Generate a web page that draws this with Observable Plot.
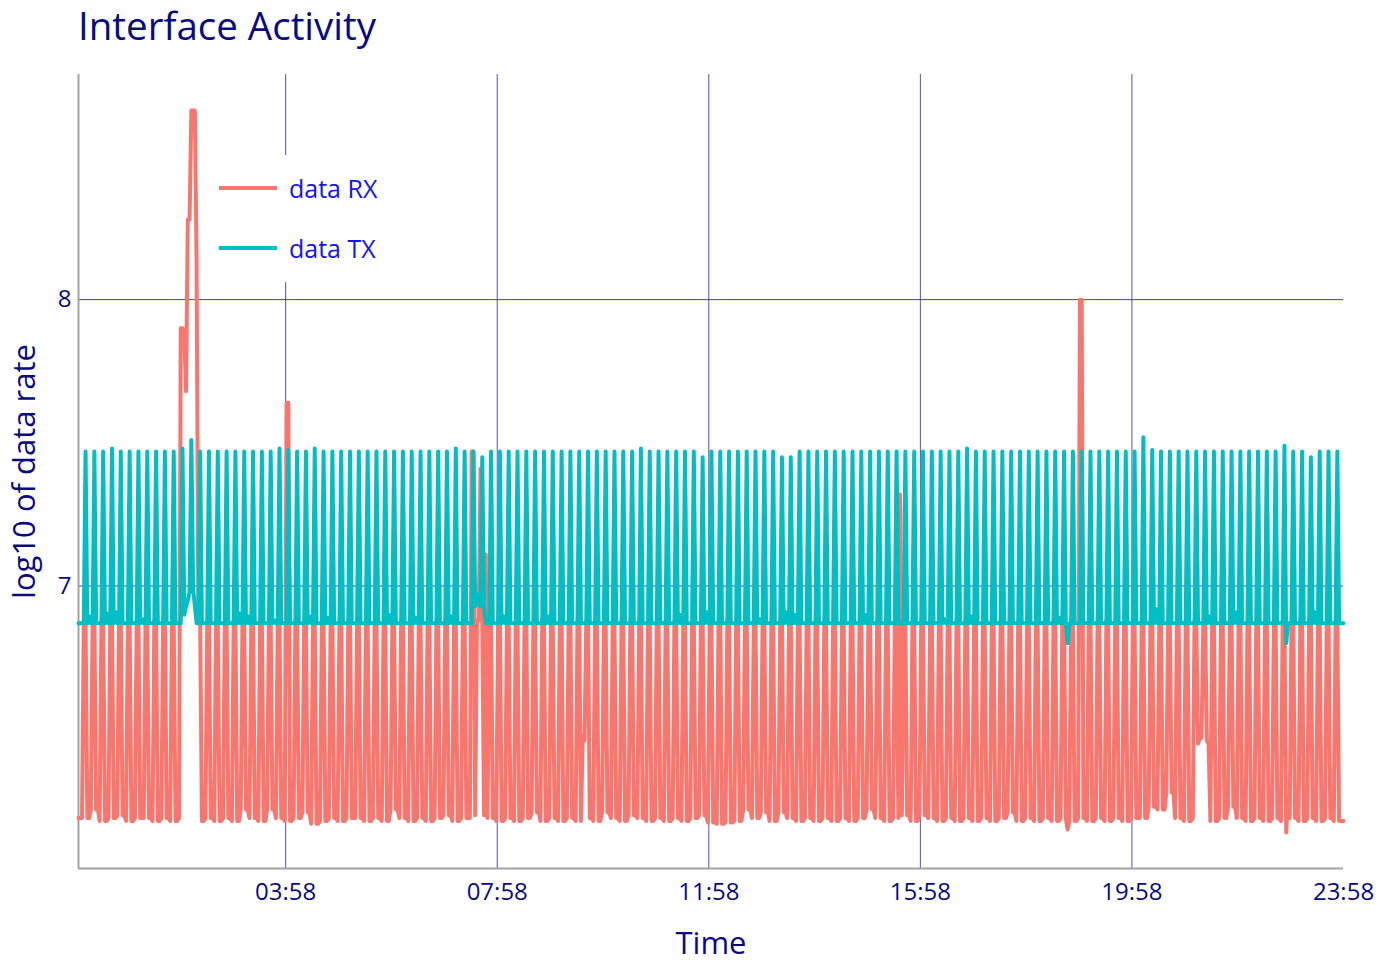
<!DOCTYPE html>
<html>
<head>
<meta charset="utf-8">
<script src="https://cdn.jsdelivr.net/npm/d3@7"></script>
<script src="https://cdn.jsdelivr.net/npm/@observablehq/plot@0.6"></script>
<style>
  html, body { margin: 0; padding: 0; background: white; }
  #wrap { position: relative; width: 1390px; height: 960px; font-family: "Open Sans", sans-serif; }
  #title { height: 60px; line-height: 50px; font-size: 38.5px; color: #0a0a85; padding-left: 78px; white-space: nowrap; }
  #legend { position: absolute; left: 205px; top: 155px; width: 190px; height: 127px; background: white; }
  .lg-row { position: absolute; left: 0; width: 190px; height: 40px; }
  .lg-line { position: absolute; left: 14px; top: 18px; width: 58px; height: 4px; }
  .lg-text { position: absolute; left: 84px; top: 0; line-height: 40px; font-size: 25px; color: #1414f5; white-space: nowrap; }
</style>
</head>
<body>
<div id="wrap">
  <div id="title"></div>
  <div id="chart"></div>
  <div id="legend"></div>
</div>
<script>
// ---------------- data ----------------
const titleText = "Interface Activity";
const xLabel = "Time";
const yLabel = "log10 of data rate";
const seriesNames = ["data RX", "data TX"];
const seriesColors = ["#F8766D", "#00BFC4"];

const dayStart = "00:03";       // first sample
const dayEnd = "23:58";         // last sample
const firstBurst = "00:11";     // first periodic transfer burst
const burstEveryMin = 10;       // bursts every 10 minutes, samples every 2 minutes
const sampleStepMin = 2;

const xTickLabels = ["03:58", "07:58", "11:58", "15:58", "19:58", "23:58"];
const xGridLabels = ["03:58", "07:58", "11:58", "15:58", "19:58"];
const yTicks = [7, 8];

const txLow = 6.87;

// TX peak value of every burst (143 bursts)
const txPeak = [
  7.47,7.47,7.47,7.48,7.47,7.47,7.47,7.47,7.47,7.47,
  7.47,7.48,7.51,7.47,7.47,7.47,7.47,7.47,7.47,7.47,
  7.47,7.47,7.48,7.475,7.47,7.47,7.48,7.47,7.47,7.47,
  7.47,7.47,7.47,7.47,7.47,7.47,7.47,7.47,7.47,7.47,
  7.47,7.47,7.48,7.47,7.47,7.45,7.47,7.47,7.47,7.47,
  7.47,7.47,7.47,7.47,7.47,7.47,7.47,7.47,7.47,7.47,
  7.47,7.47,7.47,7.48,7.47,7.47,7.47,7.47,7.47,7.47,
  7.45,7.47,7.47,7.47,7.47,7.47,7.47,7.47,7.47,7.45,
  7.45,7.47,7.47,7.47,7.47,7.47,7.47,7.47,7.47,7.47,
  7.47,7.47,7.47,7.47,7.47,7.47,7.47,7.47,7.47,7.47,
  7.48,7.47,7.47,7.47,7.47,7.47,7.47,7.47,7.47,7.47,
  7.47,7.47,7.47,7.47,7.47,7.47,7.47,7.47,7.47,7.47,
  7.52,7.475,7.47,7.47,7.47,7.47,7.47,7.47,7.47,7.47,
  7.47,7.47,7.47,7.47,7.47,7.47,7.49,7.47,7.47,7.45,
  7.47,7.47,7.47
];
// TX value of the last sample of each burst cycle (small bumps / dips)
const txTail = [
  6.895,6.87,6.905,6.91,6.87,6.87,6.885,6.87,6.87,6.87,
  6.87,6.87,6.87,6.87,6.87,6.87,6.87,6.905,6.895,6.87,
  6.87,6.88,6.87,6.87,6.87,6.895,6.87,6.89,6.87,6.87,
  6.87,6.87,6.87,6.87,6.90,6.87,6.87,6.89,6.87,6.87,
  6.87,6.895,6.87,6.87,6.87,6.87,6.87,6.895,6.87,6.87,
  6.87,6.87,6.895,6.87,6.87,6.87,6.87,6.87,6.87,6.87,
  6.87,6.87,6.87,6.87,6.87,6.87,6.87,6.90,6.87,6.87,
  6.91,6.87,6.87,6.87,6.87,6.87,6.885,6.87,6.87,6.91,
  6.90,6.87,6.87,6.87,6.87,6.87,6.87,6.87,6.90,6.87,
  6.87,6.87,6.87,6.87,6.87,6.87,6.87,6.885,6.87,6.87,
  6.895,6.87,6.87,6.87,6.87,6.87,6.87,6.87,6.87,6.87,
  6.89,6.80,6.87,6.87,6.87,6.87,6.87,6.87,6.87,6.87,
  6.87,6.92,6.87,6.87,6.87,6.87,6.87,6.895,6.87,6.87,
  6.91,6.87,6.87,6.87,6.87,6.87,6.87,6.87,6.87,6.91,
  6.87,6.87,6.87
];
// RX peak value of every burst
const rxPeak = [
  6.88,6.88,6.88,6.88,6.88,6.88,6.88,6.88,6.88,6.88,
  6.88,6.88,6.88,6.88,6.88,6.88,6.88,6.88,6.88,6.88,
  6.88,6.88,6.88,7.64,6.88,6.88,6.88,6.88,6.88,6.88,
  6.88,6.88,6.88,6.88,6.88,6.88,6.88,6.88,6.88,6.88,
  6.88,6.88,6.88,6.88,7.47,6.88,6.88,6.88,6.88,6.88,
  6.88,6.88,6.88,6.88,6.88,6.88,6.88,6.88,6.88,6.88,
  6.88,6.88,6.88,6.88,6.88,6.88,6.88,6.88,6.88,6.88,
  6.88,6.88,6.88,6.88,6.88,6.88,6.88,6.88,6.88,6.88,
  6.88,6.88,6.88,6.88,6.88,6.88,6.88,6.88,6.88,6.88,
  6.88,6.88,6.88,6.88,6.88,6.88,6.88,6.88,6.88,6.88,
  6.88,6.88,6.88,6.88,6.88,6.88,6.88,6.88,6.88,6.88,
  6.88,6.88,6.88,8.00,6.88,6.88,6.88,6.88,6.88,6.88,
  6.88,6.88,6.88,6.88,6.88,6.88,6.88,6.88,6.88,6.88,
  6.88,6.88,6.88,6.88,6.88,6.88,6.88,6.88,6.88,6.88,
  6.88,6.88,6.88
];
// RX idle level between bursts
const rxBase = [
  6.19,6.22,6.18,6.19,6.20,6.18,6.19,6.19,6.18,6.19,
  6.18,6.19,6.19,6.18,6.19,6.18,6.19,6.18,6.22,6.19,
  6.18,6.22,6.19,6.18,6.19,6.21,6.17,6.18,6.19,6.18,
  6.19,6.19,6.18,6.19,6.18,6.22,6.19,6.18,6.19,6.18,
  6.19,6.20,6.18,6.19,6.19,6.18,6.19,6.18,6.19,6.18,
  6.19,6.21,6.18,6.19,6.18,6.19,6.18,6.19,6.18,6.21,
  6.19,6.18,6.20,6.19,6.18,6.19,6.18,6.19,6.18,6.19,
  6.20,6.175,6.17,6.175,6.18,6.22,6.19,6.21,6.18,6.21,
  6.19,6.18,6.19,6.18,6.19,6.18,6.19,6.18,6.19,6.22,
  6.19,6.18,6.19,6.20,6.18,6.20,6.19,6.18,6.19,6.18,
  6.19,6.18,6.19,6.18,6.19,6.21,6.18,6.19,6.18,6.19,
  6.18,6.19,6.18,6.19,6.18,6.19,6.18,6.19,6.18,6.19,
  6.19,6.23,6.22,6.28,6.19,6.18,6.19,6.19,6.18,6.19,
  6.23,6.19,6.18,6.19,6.18,6.19,6.18,6.19,6.18,6.19,
  6.18,6.19,6.18
];
// irregular samples
const txSpecial = [
  ["02:03", 6.90], ["02:05", 6.93], ["02:07", 6.95], ["02:09", 6.98],
  ["02:13", 6.99], ["02:15", 6.93],
  ["07:33", 6.93], ["07:35", 6.95], ["07:37", 6.97], ["07:39", 6.93], ["07:43", 6.92],
  ["22:53", 6.80]
];
const rxSpecial = [
  ["01:59", 7.90], ["02:01", 7.90], ["02:03", 7.88], ["02:05", 7.68],
  ["02:07", 8.28], ["02:09", 8.28], ["02:11", 8.66], ["02:13", 8.66],
  ["02:15", 8.66], ["02:17", 8.11], ["02:19", 6.88],
  ["07:33", 6.20], ["07:35", 6.88], ["07:37", 6.88], ["07:39", 7.41],
  ["07:41", 6.88], ["07:43", 6.20], ["07:45", 7.11],
  ["09:35", 6.48], ["09:37", 6.46],
  ["15:35", 7.32],
  ["18:45", 6.15],
  ["21:13", 6.45], ["21:15", 6.47], ["21:17", 6.47], ["21:23", 6.46], ["21:25", 6.45],
  ["22:53", 6.14], ["22:55", 6.27]
];

// ---------------- build ----------------
const minutesOf = hm => { const [h, m] = hm.split(":").map(Number); return h * 60 + m; };
const dateOf = min => new Date(Date.UTC(2024, 0, 1, 0, min));

const startMin = minutesOf(dayStart), endMin = minutesOf(dayEnd), burst0 = minutesOf(firstBurst);
const tx = new Map(), rx = new Map();
const st = sampleStepMin;
for (let m = startMin; m < burst0 - 2 * st; m += st) { tx.set(m, txLow); rx.set(m, rxBase[0]); }
txPeak.forEach((p, k) => {
  const s = burst0 + k * burstEveryMin;
  tx.set(s - 2 * st, txLow); tx.set(s - st, txLow); tx.set(s, p); tx.set(s + st, txLow); tx.set(s + 2 * st, txTail[k]);
  rx.set(s - 2 * st, rxBase[k]); rx.set(s - st, rxPeak[k]); rx.set(s, rxPeak[k]); rx.set(s + st, rxBase[k]); rx.set(s + 2 * st, rxBase[k]);
});
const lastBurst = burst0 + (txPeak.length - 1) * burstEveryMin;
for (let m = lastBurst + 3 * st; m < endMin; m += st) { tx.set(m, txLow); rx.set(m, rxBase[rxBase.length - 1]); }
tx.set(endMin, txLow); rx.set(endMin, rxBase[rxBase.length - 1]);
txSpecial.forEach(([hm, v]) => tx.set(minutesOf(hm), v));
rxSpecial.forEach(([hm, v]) => rx.set(minutesOf(hm), v));

const toPoints = map => Array.from(map, ([m, v]) => ({t: dateOf(m), v})).sort((a, b) => a.t - b.t);
const rxPts = toPoints(rx), txPts = toPoints(tx);

const allV = rxPts.concat(txPts).map(d => d.v);
const vMin = d3.min(allV), vMax = d3.max(allV), pad = (vMax - vMin) * 0.05;
const yDomain = [vMin - pad, vMax + pad];
const xDomain = [dateOf(startMin), dateOf(endMin)];
const xTicks = xTickLabels.map(hm => dateOf(minutesOf(hm)));
const xGrid = xGridLabels.map(hm => dateOf(minutesOf(hm)));

const navy = "#0a0a85";
const chart = Plot.plot({
  width: 1390, height: 900,
  marginTop: 14, marginLeft: 78, marginRight: 47, marginBottom: 92,
  style: {fontFamily: "'Open Sans', sans-serif", background: "white", overflow: "visible"},
  x: {type: "utc", domain: xDomain},
  y: {domain: yDomain},
  marks: [
    Plot.gridX(xGrid, {stroke: "#5050c0", strokeOpacity: 1, strokeWidth: 1}),
    Plot.gridY(yTicks, {stroke: "#3c3cb0", strokeOpacity: 1, strokeWidth: 1}),
    Plot.ruleX([xDomain[0]], {stroke: "#a3a3a3", strokeWidth: 2}),
    Plot.ruleY([yDomain[0]], {stroke: "#a3a3a3", strokeWidth: 2}),
    Plot.line(rxPts, {x: "t", y: "v", stroke: seriesColors[0], strokeWidth: 4}),
    Plot.line(txPts, {x: "t", y: "v", stroke: seriesColors[1], strokeWidth: 4}),
    Plot.axisX(xTicks, {tickSize: 0, tickPadding: 14, tickFormat: d3.utcFormat("%H:%M"), fontSize: 24, fill: navy, label: null}),
    Plot.axisY(yTicks, {tickSize: 0, tickPadding: 7, tickFormat: d3.format("d"), fontSize: 24, fill: navy, label: null}),
    Plot.text([xLabel], {frameAnchor: "bottom", dy: 85, lineAnchor: "bottom", fontSize: 31, fill: navy}),
    Plot.text([yLabel], {frameAnchor: "left", textAnchor: "middle", dx: -44, rotate: -90, lineAnchor: "bottom", fontSize: 31, fill: navy})
  ]
});

document.getElementById("title").textContent = titleText;
document.getElementById("chart").appendChild(chart);

const legend = document.getElementById("legend");
seriesNames.forEach((name, i) => {
  const row = document.createElement("div");
  row.className = "lg-row";
  row.style.top = (13 + i * 60) + "px";
  const line = document.createElement("div");
  line.className = "lg-line";
  line.style.background = seriesColors[i];
  const txt = document.createElement("div");
  txt.className = "lg-text";
  txt.textContent = name;
  row.appendChild(line); row.appendChild(txt);
  legend.appendChild(row);
});
</script>
</body>
</html>
